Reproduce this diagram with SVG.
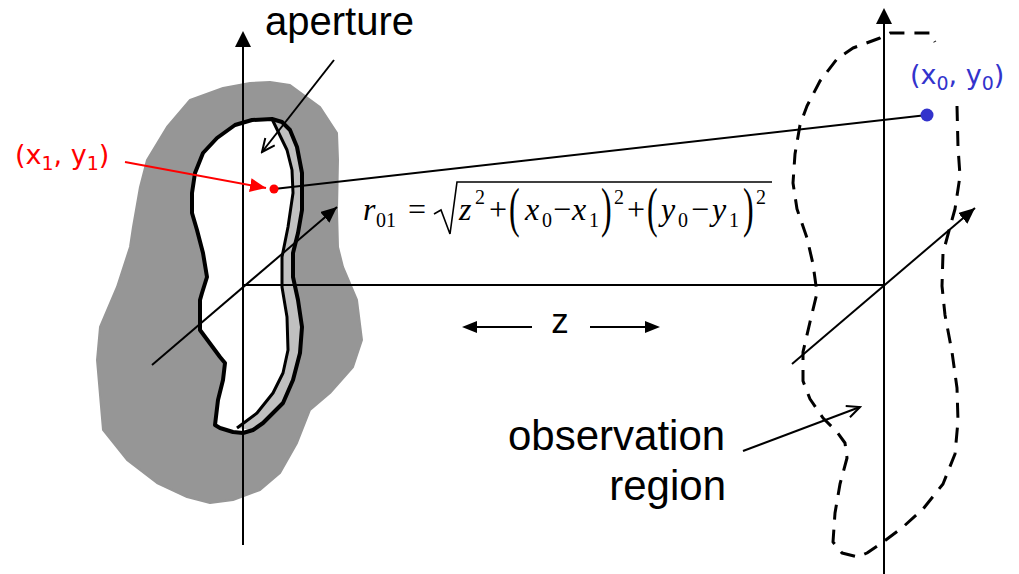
<svg xmlns="http://www.w3.org/2000/svg" width="1019" height="574" viewBox="0 0 1019 574">
<style>
.ln{stroke:#000;stroke-width:2;fill:none}
.sans{font-family:"Liberation Sans",Arial,sans-serif;fill:#000}
.lbl{font-family:"DejaVu Sans",Verdana,sans-serif}
.m{font-family:"Liberation Serif","Times New Roman",serif;font-size:32px;fill:#000}
.mi{font-style:italic}
.ms{font-size:20px}
</style>
<defs>
<marker id="tri" markerUnits="userSpaceOnUse" markerWidth="18" markerHeight="14" refX="16" refY="7" orient="auto">
<path d="M0,0 L16,7 L0,14 Z" fill="#000"/>
</marker>
<marker id="trired" markerUnits="userSpaceOnUse" markerWidth="18" markerHeight="14" refX="16" refY="7" orient="auto">
<path d="M0,0 L16,7 L0,14 Z" fill="#ff0000"/>
</marker>
<marker id="open" markerUnits="userSpaceOnUse" markerWidth="16" markerHeight="14" refX="14" refY="7" orient="auto">
<path d="M1,1 L14,7 L1,13" fill="none" stroke="#000" stroke-width="2"/>
</marker>
</defs>
<rect width="1019" height="574" fill="#fff"/>

<g id="screen">
<path d="M270,82 L290,85 L320,107 L337,133 L338,160 L337,210 L338,247 L343,267 L357,300 L362,340 L353,367 L330,393 L310,410 L297,443 L280,473 L260,490 L233,500 L210,503 L187,497 L157,483 L127,460 L103,430 L97,360 L100,327 L117,287 L130,247 L133,227 L140,187 L147,160 L167,127 L190,100 L223,88 L250,83 Z" fill="#969696" stroke="#969696" stroke-width="2" stroke-linejoin="round"/>
</g>

<g id="aperture-shape">
<path d="M252,120 L272,119 L282,122 L290,130 L297,147 L302,173 L302,210 L298,233 L293,253 L293,277 L298,300 L302,327 L300,353 L293,380 L283,403 L263,423 L253,430 L243,433 L233,432 L220,428 L215,425 L218,400 L223,380 L225,363 L220,357 L200,330 L200,300 L202,293 L207,277 L203,253 L197,230 L192,213 L192,193 L195,173 L203,153 L217,138 L235,125 Z" fill="#fff"/>
<path d="M272,119 L282,122 L290,130 L297,147 L302,173 L302,210 L298,233 L293,253 L293,277 L298,300 L302,327 L300,353 L293,380 L283,403 L263,423 L253,430 L237,428 L257,413 L273,393 L283,373 L288,350 L287,317 L282,287 L282,257 L288,227 L293,193 L292,170 L287,150 Z" fill="#c0c0c0"/>
<path d="M272,119 L287,150 L292,170 L293,193 L288,227 L282,257 L282,287 L287,317 L288,350 L283,373 L273,393 L257,413 L237,428" fill="none" stroke="#000" stroke-width="3" stroke-linejoin="round"/>
<path d="M252,120 L272,119 L282,122 L290,130 L297,147 L302,173 L302,210 L298,233 L293,253 L293,277 L298,300 L302,327 L300,353 L293,380 L283,403 L263,423 L253,430 L243,433 L233,432 L220,428 L215,425 L218,400 L223,380 L225,363 L220,357 L200,330 L200,300 L202,293 L207,277 L203,253 L197,230 L192,213 L192,193 L195,173 L203,153 L217,138 L235,125 Z" fill="none" stroke="#000" stroke-width="4" stroke-linejoin="round"/>
</g>

<g id="observation-shape">
<path d="M957,106 L958,147 L960,176 L955,209 L950,227 L943,253 L942,286 L945,315 L952,352 L957,388 L958,421 L955,454 L943,484 L923,509 L903,527 L883,542 L867,553 L858,557 L842,553 L833,542 L835,513 L840,484 L847,458 L845,443 L837,432 L823,418 L810,399 L803,381 L803,352 L810,322 L817,293 L813,264 L807,238 L797,209 L793,183 L795,154 L800,125 L807,106 L820,81 L837,59 L853,48 L880,38 L890,33 L930,33 L935,42" fill="none" stroke="#000" stroke-width="3" stroke-dasharray="15,10" stroke-linejoin="round"/>
</g>

<g id="connectors">
<line class="ln" x1="243" y1="545" x2="243" y2="46"/>
<path d="M235,47 L243,31 L251,47 Z" fill="#000"/>
<line class="ln" x1="884" y1="574" x2="884" y2="23"/>
<path d="M876,24 L884,8 L892,24 Z" fill="#000"/>
<line class="ln" x1="243" y1="285" x2="884" y2="285"/>
<line class="ln" x1="152" y1="365" x2="337" y2="207" marker-end="url(#tri)"/>
<line class="ln" x1="792" y1="364" x2="975" y2="208" marker-end="url(#tri)"/>
<line class="ln" x1="334" y1="60" x2="262" y2="152" marker-end="url(#open)"/>
<line class="ln" x1="743" y1="451" x2="860" y2="407" marker-end="url(#open)"/>
<line x1="125" y1="162" x2="266" y2="188" stroke="#ff0000" stroke-width="2" marker-end="url(#trired)"/>
<line class="ln" x1="274" y1="189" x2="927" y2="115"/>
<line class="ln" x1="532" y1="327" x2="476" y2="327"/>
<line class="ln" x1="590" y1="327" x2="646" y2="327"/>
<path d="M477,321 L462,327 L477,333 Z" fill="#000"/>
<path d="M645,321 L660,327 L645,333 Z" fill="#000"/>
</g>

<g id="point-source">
<circle cx="274" cy="189" r="4.5" fill="#ff0000"/>
<text class="lbl" x="15" y="164" font-size="27" fill="#ff0000">(x<tspan font-size="19" dy="6">1</tspan><tspan dy="-6">, y</tspan><tspan font-size="19" dy="6">1</tspan><tspan dy="-6">)</tspan></text>
</g>

<g id="point-observation">
<circle cx="927" cy="115" r="6.5" fill="#3333cc"/>
<text class="lbl" x="910" y="84" font-size="27" fill="#3333cc">(x<tspan font-size="19" dy="6">0</tspan><tspan dy="-6">, y</tspan><tspan font-size="19" dy="6">0</tspan><tspan dy="-6">)</tspan></text>
</g>

<g id="label-aperture">
<text class="sans" x="265" y="35" font-size="40">aperture</text>
</g>

<g id="label-observation">
<text class="sans" x="508" y="450" font-size="42">observation</text>
<text class="sans" x="726" y="500" font-size="42" text-anchor="end">region</text>
</g>

<g id="label-z">
<text class="sans" x="560" y="333" font-size="35" text-anchor="middle">z</text>
</g>

<g id="formula">
<text class="m mi" x="363" y="220">r</text>
<text class="m ms" x="376" y="227">01</text>
<text class="m" x="408" y="220">=</text>
<path d="M434,214 L441,210 L450,234 L457,182 L772,182" fill="none" stroke="#000" stroke-width="1.6"/>
<text class="m mi" x="459" y="220">z</text>
<text class="m ms" x="475" y="204">2</text>
<text class="m" x="489" y="220">+</text>
<text class="m" transform="translate(509,226) scale(1,1.7)">(</text>
<text class="m mi" x="525" y="220">x</text>
<text class="m ms" x="542" y="227">0</text>
<text class="m" x="553" y="220">−</text>
<text class="m mi" x="572" y="220">x</text>
<text class="m ms" x="589" y="227">1</text>
<text class="m" transform="translate(601,226) scale(1,1.7)">)</text>
<text class="m ms" x="614" y="204">2</text>
<text class="m" x="627" y="220">+</text>
<text class="m" transform="translate(647,226) scale(1,1.7)">(</text>
<text class="m mi" x="661" y="220">y</text>
<text class="m ms" x="678" y="227">0</text>
<text class="m" x="691" y="220">−</text>
<text class="m mi" x="712" y="220">y</text>
<text class="m ms" x="729" y="227">1</text>
<text class="m" transform="translate(743,226) scale(1,1.7)">)</text>
<text class="m ms" x="756" y="204">2</text>
</g>
</svg>
